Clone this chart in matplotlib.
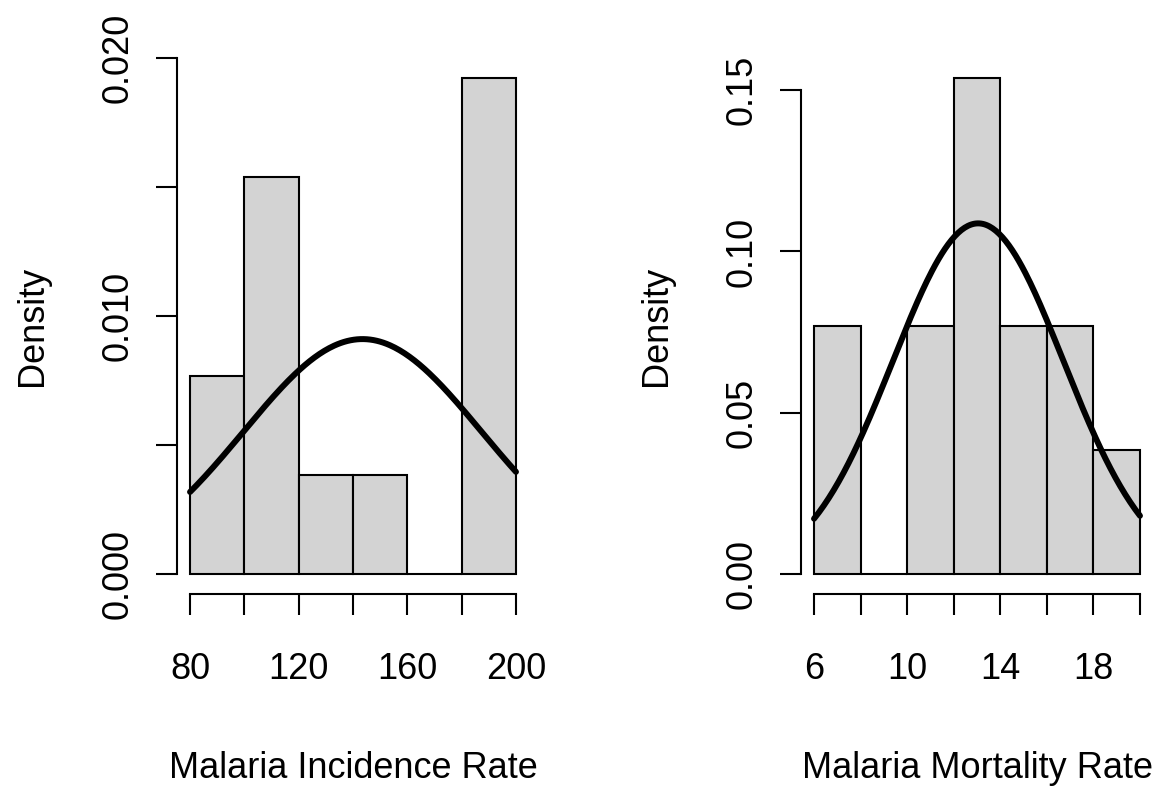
import matplotlib
matplotlib.use('Agg')
import matplotlib.pyplot as plt
import numpy as np

plt.rcParams['font.family'] = ['Liberation Sans', 'DejaVu Sans']

# histogram data (density scale)
inc_breaks = [80, 100, 120, 140, 160, 180, 200]
inc_density = [0.00769, 0.01538, 0.00385, 0.00385, 0.0, 0.01923]
inc_mean, inc_sd = 143.5, 43.8
inc_xticks = [80, 100, 120, 140, 160, 180, 200]
inc_xlabels = ['80', '', '120', '', '160', '', '200']
inc_yticks = [0.0, 0.005, 0.010, 0.015, 0.020]
inc_ylabels = ['0.000', '', '0.010', '', '0.020']

mort_breaks = [6, 8, 10, 12, 14, 16, 18, 20]
mort_density = [0.0769, 0.0, 0.0769, 0.1538, 0.0769, 0.0769, 0.0385]
mort_mean, mort_sd = 13.05, 3.67
mort_xticks = [6, 8, 10, 12, 14, 16, 18, 20]
mort_xlabels = ['6', '', '10', '', '14', '', '18', '']
mort_yticks = [0.0, 0.05, 0.10, 0.15]
mort_ylabels = ['0.00', '0.05', '0.10', '0.15']

W, H = 1163, 787
fig = plt.figure(figsize=(W/100, H/100), dpi=100)
FS = 26

def panel(left, breaks, dens, mu, sd, xt, xl, yt, yl, xlabel):
    ax = fig.add_axes([left/W, (H-594)/H, 352/W, 536/H])
    b = np.array(breaks, dtype=float)
    ax.bar(b[:-1], dens, width=np.diff(b), align='edge',
           color='#d3d3d3', edgecolor='black', linewidth=1.5)
    xs = np.linspace(b[0], b[-1], 200)
    ys = np.exp(-0.5*((xs-mu)/sd)**2)/(sd*np.sqrt(2*np.pi))
    ax.plot(xs, ys, color='black', lw=4.3, solid_capstyle='round')
    # R style 4% padding
    xr = b[-1]-b[0]
    ymax = max(max(dens), ys.max())
    ax.set_xlim(b[0]-0.04*xr, b[-1]+0.04*xr)
    ax.set_ylim(-0.04*ymax, ymax*1.04)
    for s in ['top', 'right']:
        ax.spines[s].set_visible(False)
    ax.spines['left'].set_bounds(yt[0], yt[-1])
    ax.spines['bottom'].set_bounds(xt[0], xt[-1])
    for s in ['left', 'bottom']:
        ax.spines[s].set_linewidth(1.5)
    ax.set_xticks(xt)
    ax.set_xticklabels(xl)
    ax.set_yticks(yt)
    ax.set_yticklabels(yl, rotation=90, va='center')
    ax.tick_params(direction='out', length=15, width=1.5, labelsize=FS)
    ax.tick_params(axis='x', pad=27)
    ax.tick_params(axis='y', pad=15)
    ax.set_xlabel(xlabel, fontsize=FS, labelpad=46)
    ax.set_ylabel('Density', fontsize=FS, labelpad=36)
    return ax

panel(177, inc_breaks, inc_density, inc_mean, inc_sd, inc_xticks, inc_xlabels,
      inc_yticks, inc_ylabels, 'Malaria Incidence Rate')
panel(801, mort_breaks, mort_density, mort_mean, mort_sd, mort_xticks, mort_xlabels,
      mort_yticks, mort_ylabels, 'Malaria Mortality Rate')

fig.savefig('out.png', dpi=100)
